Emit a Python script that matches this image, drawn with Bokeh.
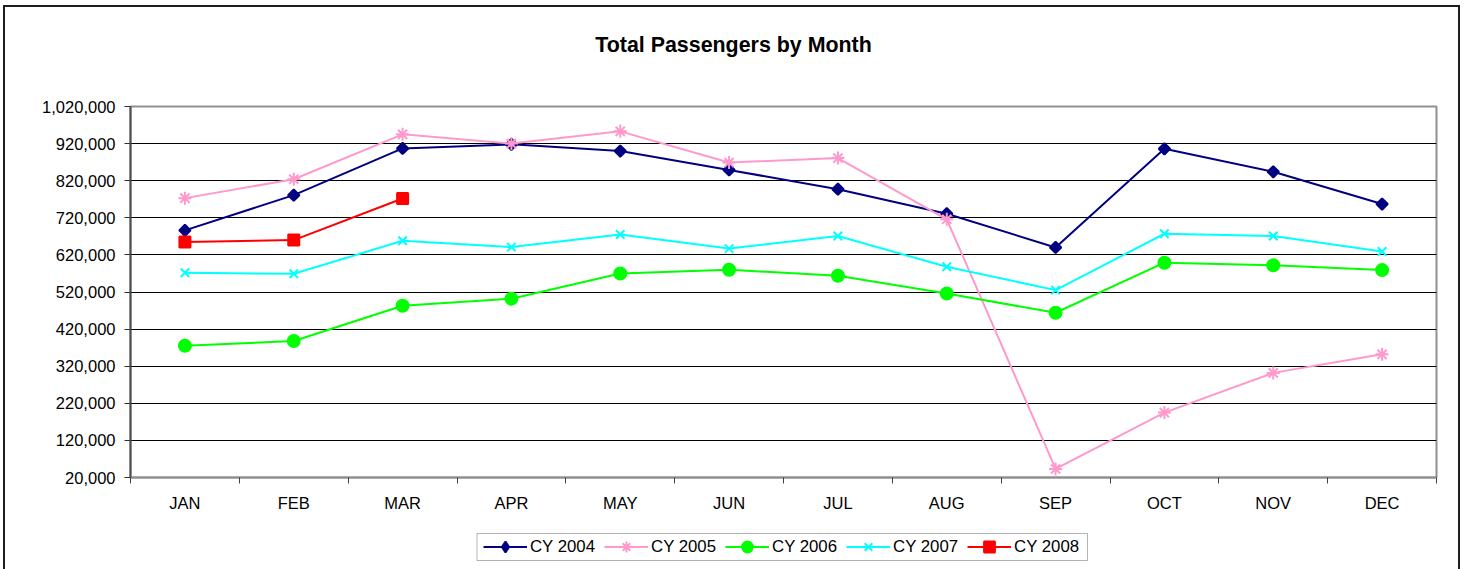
import math
from bokeh.plotting import figure
from bokeh.layouts import column
from bokeh.models import (Range1d, FixedTicker, NumeralTickFormatter, Legend, LegendItem,
                          Label, BoxAnnotation)
from bokeh.embed import file_html
from bokeh.resources import INLINE

months = ["JAN", "FEB", "MAR", "APR", "MAY", "JUN", "JUL", "AUG", "SEP", "OCT", "NOV", "DEC"]
cy2004 = [686000, 781000, 907000, 918000, 900000, 849000, 797000, 731000, 640000, 906000, 844000, 757000]
cy2005 = [773000, 824000, 945000, 920000, 953000, 869000, 881000, 716000, 43000, 195000, 302000, 352000]
cy2006 = [375000, 388000, 483000, 502000, 570000, 580000, 564000, 516000, 464000, 599000, 592000, 579000]
cy2007 = [572000, 569000, 658000, 641000, 675000, 637000, 671000, 588000, 525000, 677000, 671000, 629000]
cy2008 = [655000, 660000, 772000]
y_ticks = [20000 + 100000 * k for k in range(11)]

FONT = "Liberation Sans"
W = 1464
FL, FR = 130, 1436          # frame left / right (page pixels), shared by the column
x_pos = [i + 0.5 for i in range(len(months))]


def blank(height):
    f = figure(width=W, height=height, x_range=Range1d(FL, FR), y_range=Range1d(0, height),
               output_backend="svg", toolbar_location=None,
               min_border_left=FL, min_border_right=W - FR, min_border_top=0, min_border_bottom=0,
               x_axis_location=None, y_axis_location=None)
    f.grid.visible = False
    f.outline_line_color = None
    f.background_fill_color = None
    f.border_fill_color = None
    return f


# ---- title strip
p0 = blank(70)
p0.add_layout(Label(x=733, y=26, text="Total Passengers by Month", text_font=FONT,
                    text_font_size="21.4px", text_font_style="bold", text_color="black",
                    text_align="center", text_baseline="middle"))

# ---- main chart
p = figure(width=W, height=447, x_range=Range1d(0, len(months)),
           y_range=Range1d(y_ticks[0], y_ticks[-1]),
           output_backend="svg", toolbar_location=None,
           min_border_left=FL, min_border_right=W - FR, min_border_top=36, min_border_bottom=40)
p.background_fill_color = "white"
p.border_fill_color = None
p.outline_line_color = "#909090"
p.outline_line_width = 2

p.yaxis.ticker = FixedTicker(ticks=y_ticks)
p.yaxis.formatter = NumeralTickFormatter(format="0,0")
p.yaxis.major_label_text_font = FONT
p.yaxis.major_label_text_font_size = "16.5px"
p.yaxis.major_label_text_color = "black"
p.yaxis.major_tick_out = 6
p.yaxis.major_tick_in = 0
p.yaxis.minor_tick_line_color = None
p.yaxis.axis_line_color = "#505050"
p.yaxis.axis_line_width = 2
p.yaxis.major_tick_line_color = "#303030"
p.yaxis.major_label_standoff = 9

p.xaxis.ticker = FixedTicker(ticks=x_pos, minor_ticks=list(range(len(months) + 1)))
p.xaxis.major_label_overrides = {x: m for x, m in zip(x_pos, months)}
p.xaxis.major_label_text_font = FONT
p.xaxis.major_label_text_font_size = "16.5px"
p.xaxis.major_label_text_color = "black"
p.xaxis.major_tick_out = 0
p.xaxis.major_tick_in = 0
p.xaxis.minor_tick_out = 6
p.xaxis.minor_tick_in = 0
p.xaxis.minor_tick_line_color = "#404040"
p.xaxis.axis_line_color = "#909090"
p.xaxis.axis_line_width = 2
p.xaxis.major_label_standoff = 10

p.xgrid.grid_line_color = None
p.ygrid.ticker = FixedTicker(ticks=y_ticks)
p.ygrid.grid_line_color = "black"
p.ygrid.grid_line_width = 1

series = [
    ("CY 2004", cy2004, "#000080", "square", 8, math.pi / 4, "diamond"),
    ("CY 2005", cy2005, "#FF99CC", "asterisk", 13, 0, "asterisk"),
    ("CY 2006", cy2006, "#00FF00", "circle", 12, 0, "circle"),
    ("CY 2007", cy2007, "#00FFFF", "x", 12, 0, "x"),
    ("CY 2008", cy2008, "#FF0000", "square", 11, 0, "square"),
]

# ---- legend strip
p2 = blank(52)
items = []
for name, vals, color, marker, size, ang, leg_marker in series:
    xs = x_pos[:len(vals)]
    p.line(xs, vals, line_color=color, line_width=2)
    p.scatter(xs, vals, marker=marker, size=size, angle=ang, fill_color=color,
              line_color=color, line_width=2)
    # off-screen proxies so the legend (in its own strip) can show each series' glyph
    l1 = p2.line([-9999, -9998], [-9999, -9999], line_color=color, line_width=2)
    l2 = p2.scatter([-9999], [-9999], marker=leg_marker, size=size, fill_color=color,
                    line_color=color, line_width=2)
    items.append(LegendItem(label=name, renderers=[l1, l2]))

p2.add_layout(BoxAnnotation(left=476.5, right=1087, bottom=9, top=36, fill_color="white",
                            fill_alpha=1, line_color="black", line_width=1))
legend = Legend(items=items, orientation="horizontal", location=(483 - FL, 9),
                label_text_font=FONT, label_text_font_size="16.8px", label_text_color="black",
                glyph_width=44, glyph_height=27, label_standoff=3, spacing=9, padding=0, margin=0,
                border_line_color=None, background_fill_alpha=0)
p2.add_layout(legend, "center")

layout = column(p0, p, p2, spacing=0)
bar = "linear-gradient(#1e1e1e,#1e1e1e)"
layout.styles = {
    "background": (f"{bar} 3px 5px / 2px 600px no-repeat, "
                   f"{bar} 1458px 5px / 2px 600px no-repeat, "
                   f"{bar} 3px 5px / 1457px 2px no-repeat, white")
}

open("out.html", "w").write(file_html(layout, INLINE))
